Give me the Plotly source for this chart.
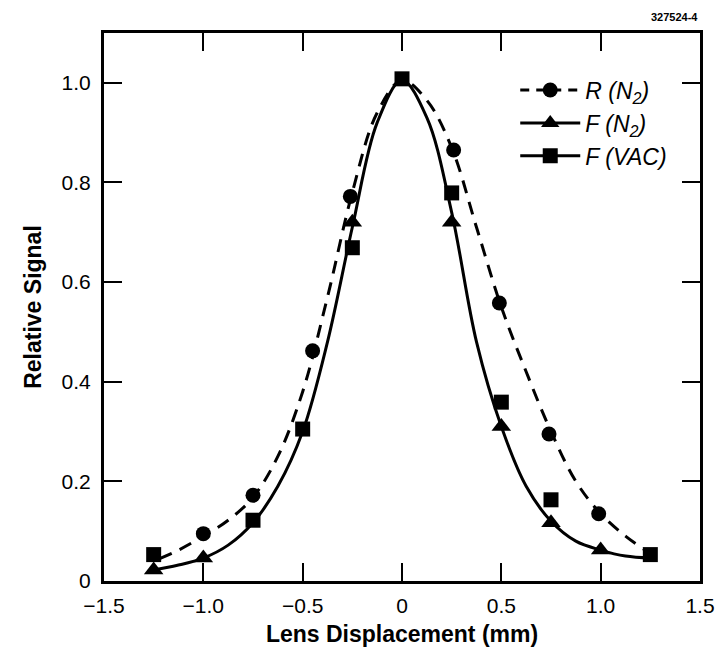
import plotly.graph_objects as go

# Measured points
r_x = [-1.0, -0.75, -0.45, -0.26, 0.26, 0.49, 0.74, 0.99]
r_y = [0.095, 0.172, 0.462, 0.772, 0.865, 0.558, 0.295, 0.135]

fn_x = [-1.25, -1.0, -0.25, 0.25, 0.5, 0.75, 1.0]
fn_y = [0.022, 0.046, 0.72, 0.72, 0.31, 0.117, 0.062]

fv_x = [-1.25, -0.75, -0.5, -0.25, 0.0, 0.25, 0.5, 0.75, 1.25]
fv_y = [0.053, 0.122, 0.305, 0.669, 1.008, 0.779, 0.359, 0.163, 0.053]

# Fitted curves
rfit_x = [-1.22, -1.125, -1.0, -0.875, -0.75, -0.625, -0.5, -0.375, -0.25, -0.125,
          0.0, 0.125, 0.25, 0.375, 0.5, 0.625, 0.75, 0.875, 1.0, 1.125, 1.22]
rfit_y = [0.045, 0.062, 0.09, 0.122, 0.168, 0.25, 0.38, 0.57, 0.78, 0.94,
          1.005, 0.965, 0.87, 0.71, 0.55, 0.42, 0.30, 0.20, 0.135, 0.09, 0.063]

ffit_x = [-1.27, -1.125, -1.0, -0.875, -0.75, -0.625, -0.5, -0.375, -0.25, -0.125,
          0.0, 0.125, 0.25, 0.375, 0.5, 0.625, 0.75, 0.875, 1.0, 1.125, 1.25]
ffit_y = [0.021, 0.032, 0.046, 0.072, 0.117, 0.19, 0.30, 0.48, 0.71, 0.92,
          1.005, 0.93, 0.74, 0.48, 0.31, 0.19, 0.12, 0.08, 0.062, 0.05, 0.046]

x_ticks = [-1.5, -1.0, -0.5, 0, 0.5, 1.0, 1.5]
x_tick_labels = ["\u22121.5", "\u22121.0", "\u22120.5", "0", "0.5", "1.0", "1.5"]
y_ticks = [0, 0.2, 0.4, 0.6, 0.8, 1.0]
y_tick_labels = ["0", "0.2", "0.4", "0.6", "0.8", "1.0"]

names = ["<i>R (N<sub>2</sub>)</i>", "<i>F (N<sub>2</sub>)</i>", "<i>F (VAC)</i>"]

BLACK = "black"
fig = go.Figure()

fig.add_trace(go.Scatter(x=rfit_x, y=rfit_y, mode="lines", line=dict(color=BLACK, width=3, dash="13px,9px", shape="spline"),
                         showlegend=False, hoverinfo="skip"))
fig.add_trace(go.Scatter(x=ffit_x, y=ffit_y, mode="lines", line=dict(color=BLACK, width=3, shape="spline"),
                         showlegend=False, hoverinfo="skip"))

fig.add_trace(go.Scatter(x=r_x, y=r_y, mode="markers", marker=dict(symbol="circle", size=15, color=BLACK),
                         showlegend=False))
fig.add_trace(go.Scatter(x=fn_x, y=fn_y, mode="markers", marker=dict(symbol="triangle-up", size=17, color=BLACK),
                         showlegend=False))
fig.add_trace(go.Scatter(x=fv_x, y=fv_y, mode="markers", marker=dict(symbol="square", size=15, color=BLACK),
                         showlegend=False))

# legend-only entries
fig.add_trace(go.Scatter(x=[None], y=[None], mode="lines+markers", name=names[0],
                         line=dict(color=BLACK, width=3, dash="9px,7px"),
                         marker=dict(symbol="circle", size=15, color=BLACK)))
fig.add_trace(go.Scatter(x=[None], y=[None], mode="lines+markers", name=names[1],
                         line=dict(color=BLACK, width=3),
                         marker=dict(symbol="triangle-up", size=17, color=BLACK)))
fig.add_trace(go.Scatter(x=[None], y=[None], mode="lines+markers", name=names[2],
                         line=dict(color=BLACK, width=3),
                         marker=dict(symbol="square", size=15, color=BLACK)))

axis_common = dict(
    showline=True, linecolor=BLACK, linewidth=3, mirror="ticks",
    ticks="inside", ticklen=18, tickwidth=2, tickcolor=BLACK,
    showgrid=False, zeroline=False, automargin=False,
    tickfont=dict(family="Liberation Sans, Arial, sans-serif", size=21, color=BLACK),
)

fig.update_layout(
    width=716, height=654,
    margin=dict(l=104, r=16, t=33, b=73, autoexpand=False),
    paper_bgcolor="white", plot_bgcolor="white",
    font=dict(family="Liberation Sans, Arial, sans-serif", color=BLACK),
    xaxis=dict(range=[-1.5, 1.5], tickvals=x_ticks, ticktext=x_tick_labels,
               title=dict(text="<b>Lens Displacement (mm)</b>", font=dict(size=23), standoff=10),
               ticklabelstandoff=4, **axis_common),
    yaxis=dict(range=[0, 1.1], tickvals=y_ticks, ticktext=y_tick_labels,
               title=dict(text="<b>Relative Signal</b>", font=dict(size=23), standoff=14),
               ticklabelstandoff=6, **axis_common),
    legend=dict(x=0.69, y=0.935, xanchor="left", yanchor="top", bgcolor="rgba(0,0,0,0)",
                font=dict(size=23, color=BLACK), itemwidth=60, tracegroupgap=0),
    annotations=[dict(text="<b>327524-4</b>", xref="paper", yref="paper", x=1.0, y=1.0,
                      xanchor="right", yanchor="bottom", yshift=8, showarrow=False,
                      font=dict(size=11, color=BLACK))],
)

fig.write_html("out.html")
